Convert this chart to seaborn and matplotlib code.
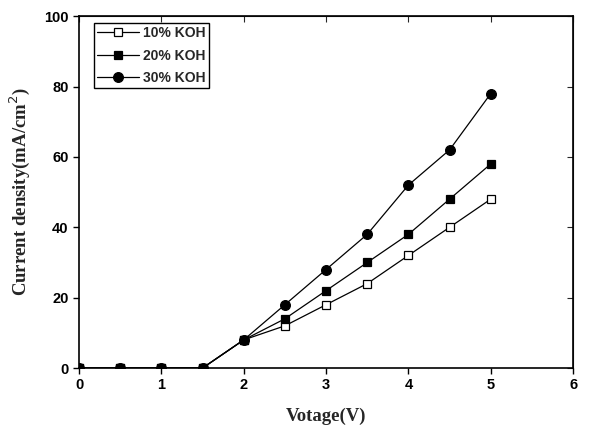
import numpy as np
import pandas as pd
import seaborn as sns
import matplotlib.pyplot as plt

# Data
voltage = [0, 0.5, 1, 1.5, 2, 2.5, 3, 3.5, 4, 4.5, 5]
koh_10 = [0, 0, 0, 0, 8, 12, 18, 24, 32, 40, 48]
koh_20 = [0, 0, 0, 0, 8, 14, 22, 30, 38, 48, 58]
koh_30 = [0, 0, 0, 0, 8, 18, 28, 38, 52, 62, 78]
labels = ['10% KOH', '20% KOH', '30% KOH']

sns.set_style("ticks")
plt.rcParams['font.family'] = ['Liberation Sans', 'DejaVu Sans']

fig = plt.figure(figsize=(5.96, 4.25), dpi=100)
ax = fig.add_axes([0.1326, 0.134, 0.829, 0.828])

styles = [('s', 'white', 6), ('s', 'black', 6), ('o', 'black', 7)]
for vals, lab, (mk, fc, ms) in zip([koh_10, koh_20, koh_30], labels, styles):
    sns.lineplot(x=voltage, y=vals, ax=ax, color='black', linewidth=0.9,
                 marker=mk, markersize=ms, markerfacecolor=fc,
                 markeredgecolor='black', markeredgewidth=0.9, label=lab)

ax.set_xlim(0, 6)
ax.set_ylim(0, 100)
ax.set_xticks(range(0, 7))
ax.set_yticks(range(0, 101, 20))
for lab in ax.get_xticklabels() + ax.get_yticklabels():
    lab.set_fontweight('bold')
    lab.set_fontsize(10.5)
ax.tick_params(direction='out', length=4, width=1, colors='black')

# inward ticks on top and right
top = ax.secondary_xaxis('top')
top.set_xticks(range(0, 7))
top.tick_params(direction='in', length=4, labeltop=False)
right = ax.secondary_yaxis('right')
right.set_yticks(range(0, 101, 20))
right.tick_params(direction='in', length=4, labelright=False)

for sp in ax.spines.values():
    sp.set_linewidth(1.2)
    sp.set_color('black')

ax.set_xlabel('Votage(V)', family='Liberation Serif', fontweight='bold',
              fontsize=13.5, labelpad=11)
ax.set_ylabel('Current density(mA/cm$^2$)', family='Liberation Serif',
              fontweight='bold', fontsize=13.5, labelpad=9)

leg = ax.legend(loc='upper left', bbox_to_anchor=(0.021, 0.993), frameon=True,
                fancybox=False, edgecolor='black', framealpha=1,
                prop={'weight': 'bold', 'size': 10}, handlelength=3.0,
                handletextpad=0.3, borderpad=0.25, labelspacing=0.6,
                borderaxespad=0.3)
leg.get_frame().set_linewidth(1.0)

fig.savefig('out.png', dpi=100)
